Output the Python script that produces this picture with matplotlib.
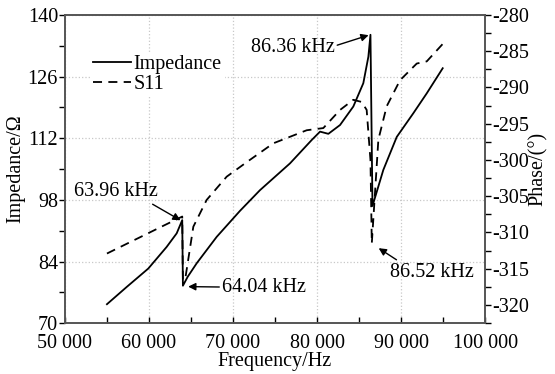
import matplotlib
matplotlib.use('Agg')
import matplotlib.pyplot as plt
from matplotlib.ticker import MultipleLocator

plt.rcParams['font.family'] = ['Liberation Serif', 'DejaVu Serif']
plt.rcParams['font.size'] = 14.5

# impedance curve (left axis)
imp_freq = [55000, 57340, 59920, 62100, 63300, 63960, 64040, 64600, 65680, 68060,
            70830, 73210, 76790, 79370, 80360, 81350, 82740, 84320, 85510, 86110,
            86360, 86600, 87890, 89490, 91470, 93060, 94960]
imp_val = [74.3, 78.2, 82.4, 87.3, 90.4, 93.4, 78.5, 80.5, 83.6, 89.6,
           95.5, 100.2, 106.3, 111.6, 113.5, 113.0, 115.0, 119.2, 124.5, 130.5,
           135.5, 96.6, 104.8, 112.3, 117.7, 122.2, 127.9]

# S11 phase curve (right axis)
s11_freq = [55000, 61310, 63960, 64040, 64290, 65280, 66870, 69250, 71630, 74800,
            78770, 80750, 82740, 84320, 85320, 85910, 86360, 86520, 87300, 88290,
            89880, 91870, 93060, 94960]
s11_val = [-312.9, -309.3, -307.8, -316.5, -316.6, -309.2, -305.5, -302.3, -300.3, -297.7,
           -295.9, -295.6, -293.1, -291.7, -292.0, -293.1, -300.0, -311.5, -297.2, -292.6,
           -289.0, -286.7, -286.4, -284.0]

x_ticks = [50000, 60000, 70000, 80000, 90000, 100000]
x_labels = ['50 000', '60 000', '70 000', '80 000', '90 000', '100 000']
y_ticks = [70, 84, 98, 112, 126, 140]
ph_ticks = [-320, -315, -310, -305, -300, -295, -290, -285, -280]

fig = plt.figure(figsize=(5.55, 3.74), dpi=100)
ax = fig.add_axes([0.117, 0.136, 0.757, 0.824])
ax2 = ax.twinx()

l1, = ax.plot(imp_freq, imp_val, color='black', lw=1.3, label='Impedance')
l2, = ax2.plot(s11_freq, s11_val, color='black', lw=1.3, ls=(0, (5, 3.5)), label='S11')

ax.set_xlim(50000, 100000)
ax.set_ylim(70, 140)
ax2.set_ylim(-322.5, -280)

ax.set_xticks(x_ticks)
ax.set_xticklabels(x_labels)
ax.xaxis.set_minor_locator(MultipleLocator(5000))
ax.set_yticks(y_ticks)
ax.yaxis.set_minor_locator(MultipleLocator(7))
ax2.set_yticks(ph_ticks)
ax2.set_yticklabels([str(t) for t in ph_ticks])
ax2.yaxis.set_minor_locator(MultipleLocator(2.5))

ax.tick_params(axis='x', which='both', direction='in', length=4, width=1, pad=8)
ax.tick_params(axis='y', which='both', direction='out', length=4, width=1, pad=1)
ax2.tick_params(axis='y', which='both', direction='out', length=4, width=1, pad=1)

ax.grid(True, color='#c8c8c8', ls=':', lw=0.9)
for a in (ax, ax2):
    for s in a.spines.values():
        s.set_color('#555555')
        s.set_linewidth(1.2)

ax.set_xlabel('Frequency/Hz', labelpad=-1)
ax.set_ylabel('Impedance/Ω', labelpad=2)
ax2.set_ylabel('Phase/(°)', labelpad=0)

arrow = dict(arrowstyle='-|>', color='black', lw=1.0, mutation_scale=11, shrinkA=0, shrinkB=1)
ax.annotate('63.96 kHz', xy=(63900, 93.2), xytext=(56070, 99.8), ha='center', va='center',
            arrowprops=dict(arrow, relpos=(0.86, 0.05)))
ax.annotate('64.04 kHz', xy=(64500, 78.3), xytext=(68700, 78.2), ha='left', va='center',
            arrowprops=dict(arrow, relpos=(0.0, 0.5)))
ax.annotate('86.36 kHz', xy=(86300, 135.5), xytext=(77080, 132.5), ha='center', va='center',
            arrowprops=dict(arrow, relpos=(1.0, 0.6)))
ax.annotate('86.52 kHz', xy=(87200, 87.2), xytext=(93630, 81.6), ha='center', va='center',
            arrowprops=dict(arrow, relpos=(0.15, 0.95)))

leg = ax.legend(handles=[l1, l2], loc='upper left', bbox_to_anchor=(0.06, 0.88),
                frameon=True, framealpha=1, edgecolor='none', handlelength=1.9,
                handletextpad=0.1, labelspacing=0.06, borderpad=0.15, borderaxespad=0)
leg.get_frame().set_linewidth(0)

fig.savefig('out.png', dpi=100)
